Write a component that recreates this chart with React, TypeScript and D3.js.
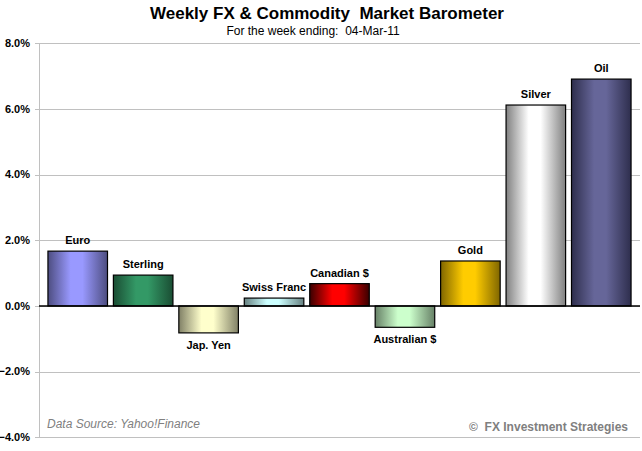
import React, { useEffect, useRef } from 'react';
import * as d3 from 'd3';

const categories = ['Euro', 'Sterling', 'Jap. Yen', 'Swiss Franc', 'Canadian $', 'Australian $', 'Gold', 'Silver', 'Oil'];
const weeklyChange = [1.67, 0.94, -0.82, 0.24, 0.68, -0.65, 1.37, 6.12, 6.91];
const centerColors = ['#9999ff', '#339966', '#ffffcc', '#ccffff', '#ff0000', '#ccffcc', '#ffcc00', '#ffffff', '#666699'];
const edgeColors = ['#4d4d80', '#1a4d33', '#808066', '#668080', '#3a0000', '#668066', '#806600', '#808080', '#2e2e4d'];
const yTicks = [-4, -2, 0, 2, 4, 6, 8];

const W = 642;
const H = 451;
const FONT = '"Liberation Sans", Arial, sans-serif';

export default function App() {
  const ref = useRef<SVGSVGElement>(null);

  useEffect(() => {
    const svg = d3.select(ref.current);
    svg.selectAll('*').remove();

    const x = d3.scaleBand<string>()
      .domain(categories)
      .range([45, 634])
      .paddingInner(0.09)
      .paddingOuter(0.045);

    const y = d3.scaleLinear().domain([-4, 8]).range([437.3, 43.3]);

    const defs = svg.append('defs');
    categories.forEach((c, i) => {
      const g = defs.append('linearGradient')
        .attr('id', 'grad' + i)
        .attr('x1', '0%').attr('x2', '100%')
        .attr('y1', '0%').attr('y2', '0%');
      g.append('stop').attr('offset', '0%').attr('stop-color', edgeColors[i]);
      g.append('stop').attr('offset', '38%').attr('stop-color', centerColors[i]);
      g.append('stop').attr('offset', '58%').attr('stop-color', centerColors[i]);
      g.append('stop').attr('offset', '100%').attr('stop-color', edgeColors[i]);
    });

    // title
    svg.append('text')
      .attr('x', 327).attr('y', 19)
      .attr('text-anchor', 'middle')
      .style('font-family', FONT).style('font-weight', 'bold').style('font-size', '17px')
      .attr('xml:space', 'preserve')
      .text('Weekly FX & Commodity  Market Barometer');

    svg.append('text')
      .attr('x', 313).attr('y', 35)
      .attr('text-anchor', 'middle')
      .style('font-family', FONT).style('font-size', '12px')
      .attr('xml:space', 'preserve')
      .text('For the week ending:  04-Mar-11');

    // grid + ticks
    const grid = svg.append('g');
    yTicks.forEach(t => {
      grid.append('line')
        .attr('x1', 35).attr('x2', 640)
        .attr('y1', Math.round(y(t)) + 0.5).attr('y2', Math.round(y(t)) + 0.5)
        .attr('stroke', '#c0c0c0').attr('stroke-width', 1);
      grid.append('text')
        .attr('x', 30).attr('y', y(t))
        .attr('dy', '0.35em')
        .attr('text-anchor', 'end')
        .style('font-family', FONT).style('font-weight', 'bold').style('font-size', '11px')
        .text(d3.format('.1f')(t) + '%');
    });
    grid.append('line')
      .attr('x1', 39.5).attr('x2', 39.5)
      .attr('y1', y(8)).attr('y2', y(-4))
      .attr('stroke', '#c0c0c0');

    // footer
    svg.append('text')
      .attr('x', 47).attr('y', 428)
      .style('font-family', FONT).style('font-style', 'italic').style('font-size', '12px')
      .attr('fill', '#808080')
      .text('Data Source: Yahoo!Finance');

    svg.append('text')
      .attr('x', 628).attr('y', 431)
      .attr('text-anchor', 'end')
      .style('font-family', FONT).style('font-weight', 'bold').style('font-size', '12px')
      .attr('fill', '#808080')
      .attr('xml:space', 'preserve')
      .text('©  FX Investment Strategies');

    // bars
    const bars = svg.append('g');
    categories.forEach((c, i) => {
      const v = weeklyChange[i];
      const top = y(Math.max(0, v));
      const bottom = y(Math.min(0, v));
      bars.append('rect')
        .attr('x', x(c)!)
        .attr('y', top)
        .attr('width', x.bandwidth())
        .attr('height', bottom - top)
        .attr('fill', `url(#grad${i})`)
        .attr('stroke', '#000')
        .attr('stroke-width', 1.2);
      bars.append('text')
        .attr('x', x(c)! + x.bandwidth() / 2)
        .attr('y', v >= 0 ? top - 7 : bottom + 16)
        .attr('text-anchor', 'middle')
        .style('font-family', FONT).style('font-weight', 'bold').style('font-size', '11px')
        .text(c);
    });

    // zero line
    svg.append('line')
      .attr('x1', 39).attr('x2', 640)
      .attr('y1', y(0)).attr('y2', y(0))
      .attr('stroke', '#000').attr('stroke-width', 1.5);
  }, []);

  return (
    <svg ref={ref} width={W} height={H}
      style={{ position: 'absolute', left: 0, top: 0, background: '#fff' }} />
  );
}
